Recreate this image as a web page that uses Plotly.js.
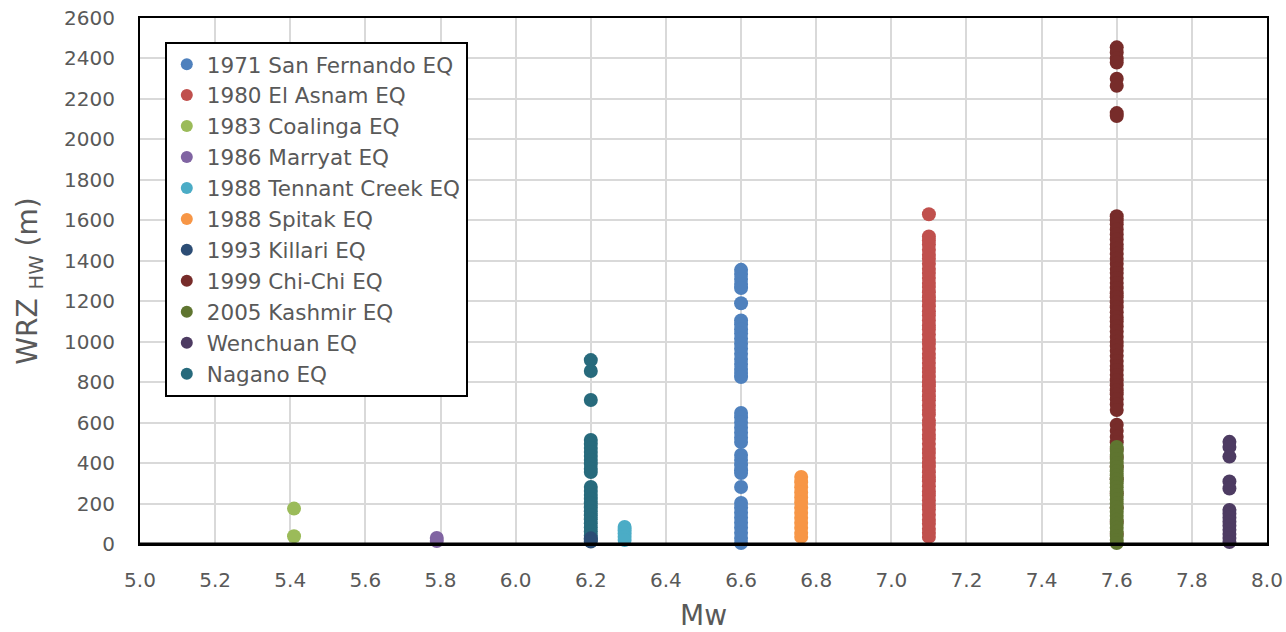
<!DOCTYPE html>
<html>
<head>
<meta charset="utf-8">
<script src="https://cdn.plot.ly/plotly-3.0.1.min.js"></script>
<style>html,body{margin:0;padding:0;background:#fff;}#chart{width:1286px;height:632px;}</style>
</head>
<body>
<div id="chart"></div>
<script>
// Series names and colours
const seriesNames = ["1971 San Fernando EQ","1980 El Asnam EQ","1983 Coalinga EQ","1986 Marryat EQ","1988 Tennant Creek EQ","1988 Spitak EQ","1993 Killari EQ","1999 Chi-Chi EQ","2005 Kashmir EQ","Wenchuan EQ","Nagano EQ"];
const seriesColors = ["#4F81BD","#C0504D","#9BBB59","#8064A2","#4BACC6","#F79646","#2C4D75","#772C2A","#5F7530","#4D3B62","#276A7C"];
// Magnitude (Mw) of each earthquake
const mwValues = [6.6, 7.1, 5.41, 5.79, 6.29, 6.76, 6.2, 7.6, 7.6, 7.9, 6.2];

// WRZ_HW values (m) for each earthquake
const sanFernando = [1355,1335,1310,1285,1265,1190,1105,1085,1060,1040,1015,990,965,940,915,890,865,845,825,648,625,600,575,550,525,504,440,415,390,365,351,282,203,180,155,130,105,80,55,30,5];
const elAsnam = [1630,1520,1500,1480,1455,1430,1410,1385,1360,1340,1315,1290,1270,1245,1220,1200,1175,1150,1130,1105,1080,1060,1035,1010,990,965,940,920,895,870,850,825,800,780,755,730,710,685,662,640,610,590,565,540,520,495,470,450,425,400,380,355,330,310,285,260,240,215,190,170,145,120,100,75,55,35];
const coalinga = [175,38];
const marryat = [30,15];
const tennantCreek = [84,68,52,36,20];
const spitak = [331,305,280,255,230,205,180,155,130,105,80,55,35];
const killari = [28,12];
const chiChi = [2455,2430,2400,2380,2300,2265,2130,2115,1620,1600,1580,1555,1530,1505,1480,1460,1435,1410,1385,1360,1340,1315,1290,1265,1240,1220,1195,1170,1145,1120,1100,1075,1050,1025,1000,980,955,930,905,880,860,835,810,785,760,740,715,690,662,590,560,530,503,470,430,380,320,250,180,110,50];
const kashmir = [480,460,440,420,400,380,360,340,320,300,280,260,240,220,200,180,160,140,120,100,80,60,40,20,5];
const wenchuan = [505,480,432,309,274,168,150,130,110,90,70,50,30,10];
const nagano = [909,855,712,514,495,475,455,435,415,395,372,356,282,262,242,222,202,182,162,142,122,102,82,62,42,22];

const seriesValues = [sanFernando, elAsnam, coalinga, marryat, tennantCreek, spitak, killari, chiChi, kashmir, wenchuan, nagano];

// Axis ticks
const yTicks = [0,200,400,600,800,1000,1200,1400,1600,1800,2000,2200,2400,2600];
const xTicks = [5.0,5.2,5.4,5.6,5.8,6.0,6.2,6.4,6.6,6.8,7.0,7.2,7.4,7.6,7.8,8.0];

// Draw order: Nagano under Killari, Chi-Chi under Kashmir
const drawOrder = [0,1,2,3,4,5,10,6,7,8,9];

const traces = drawOrder.map(i => ({
  type: "scatter",
  mode: "markers",
  name: seriesNames[i],
  x: seriesValues[i].map(() => mwValues[i]),
  y: seriesValues[i],
  legendrank: i + 1,
  marker: {color: seriesColors[i], size: 14, line: {width: 0}},
  cliponaxis: false
}));

const fontFam = "'DejaVu Sans', 'Open Sans', sans-serif";
const layout = {
  width: 1286, height: 632,
  margin: {l: 140, r: 19, t: 18, b: 88},
  paper_bgcolor: "#fff", plot_bgcolor: "#fff",
  font: {family: fontFam, color: "#595959", size: 20},
  showlegend: true,
  legend: {
    x: 0.022, y: 0.955, xanchor: "left", yanchor: "top",
    bgcolor: "#fff", bordercolor: "#000", borderwidth: 2,
    font: {family: fontFam, size: 21.5, color: "#595959"},
    traceorder: "normal", itemsizing: "constant", tracegroupgap: 0
  },
  xaxis: {
    range: [5.0, 8.0], tickvals: xTicks, ticktext: xTicks.map(v => v.toFixed(1)),
    showgrid: true, gridcolor: "#d9d9d9", gridwidth: 2,
    showline: true, linecolor: "#000", linewidth: 2, mirror: true,
    ticks: "", zeroline: false, ticklabelstandoff: 17,
    tickfont: {size: 20, color: "#595959"},
    title: {text: "Mw", font: {size: 28, color: "#595959"}, standoff: 24}
  },
  yaxis: {
    range: [0, 2600], tickvals: yTicks,
    showgrid: true, gridcolor: "#d9d9d9", gridwidth: 2,
    showline: true, linecolor: "#000", linewidth: 2, mirror: true,
    ticks: "", zeroline: false, ticklabelstandoff: 19,
    tickfont: {size: 20, color: "#595959"},
    title: {text: "WRZ <sub>HW</sub> (m)", font: {size: 28, color: "#595959"}, standoff: 18}
  },
  shapes: [{type: "line", xref: "paper", yref: "paper", x0: 0, x1: 1, y0: 0, y1: 0, line: {color: "#000", width: 3}}]
};

Plotly.newPlot("chart", traces, layout, {displayModeBar: false, staticPlot: true});
</script>
</body>
</html>
